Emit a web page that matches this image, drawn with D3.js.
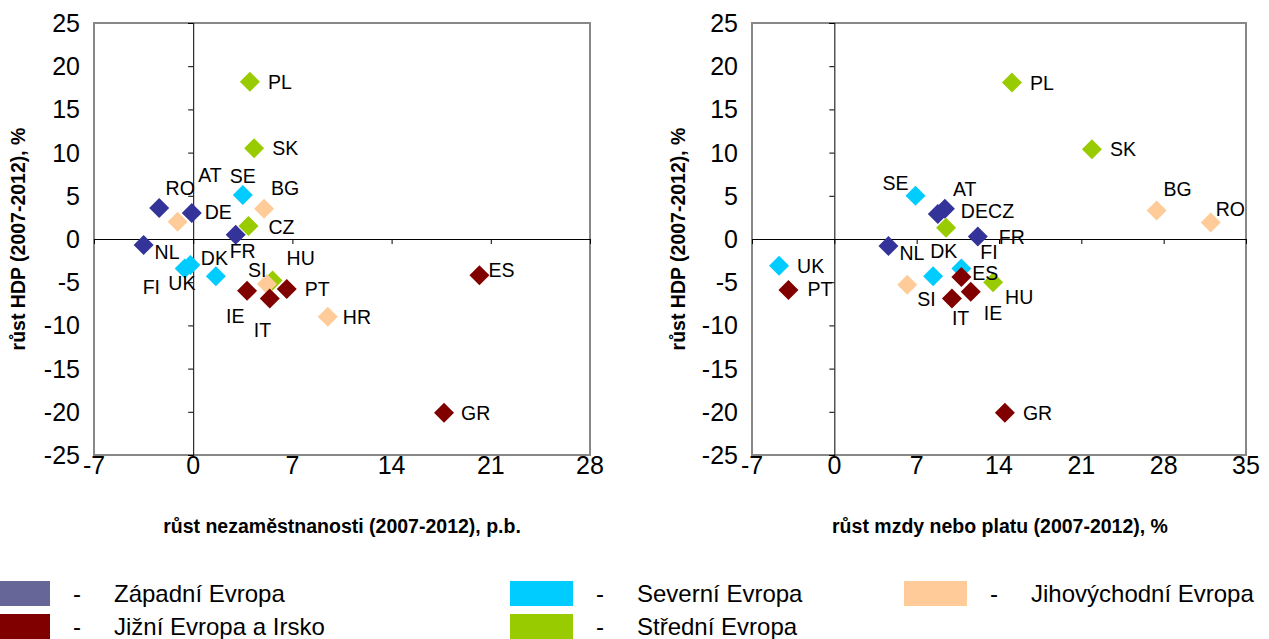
<!DOCTYPE html>
<html><head><meta charset="utf-8">
<script src="https://cdn.jsdelivr.net/npm/d3@7"></script>
<style>body{margin:0;background:#fff}svg{display:block;font-family:Arial,"Liberation Sans",sans-serif}</style>
</head><body>
<svg id="c" width="1269" height="639"></svg>
<script>
// ---- data ----
const groups = ["Západní Evropa","Jižní Evropa a Irsko","Severní Evropa","Střední Evropa","Jihovýchodní Evropa"];
const groupColors = ["#333399","#800000","#00CCFF","#99CC00","#FFCC99"];
const legendColors = ["#666699","#800000","#00CCFF","#99CC00","#FFCC99"];

// left chart: unemployment growth (p.b.) vs GDP growth (%)
const leftCountries = ["PL","SK","AT","RO","SE","BG","DE","CZ","FR","NL","DK","FI","UK","HU","SI","IE","IT","PT","HR","ES","GR"];
const leftGroup     = [3,3,0,4,2,4,0,3,0,0,2,2,2,3,4,1,1,1,4,1,1];
const leftX = [4.0,4.3,-2.4,-1.1,3.5,5.0,-0.1,3.9,3.0,-3.5,1.6,-0.6,-0.2,5.6,5.2,3.8,5.4,6.6,9.5,20.2,17.7];
const leftY = [18.2,10.5,3.6,2.0,5.1,3.5,3.0,1.5,0.5,-0.7,-4.3,-3.4,-3.0,-4.8,-5.2,-6.0,-6.9,-5.8,-9.0,-4.2,-20.1];

// right chart: wage growth (%) vs GDP growth (%)
const rightCountries = ["SE","AT","DE","CZ","FR","NL","DK","FI","ES","UK","PT","SI","IT","IE","HU","PL","SK","BG","RO","GR"];
const rightGroup     = [2,0,0,3,0,0,2,2,1,2,1,4,1,1,3,3,3,4,4,1];
const rightX = [6.9,9.4,8.8,9.5,12.2,4.6,8.4,10.8,10.8,-4.7,-3.9,6.2,10.0,11.6,13.5,15.1,21.9,27.4,32.0,14.5];
const rightY = [5.0,3.5,2.9,1.3,0.3,-0.8,-4.3,-3.4,-4.4,-3.1,-5.9,-5.3,-6.9,-6.1,-5.0,18.1,10.4,3.3,1.9,-20.1];

const leftXTicks = [-7,0,7,14,21,28];
const rightXTicks = [-7,0,7,14,21,28,35];
const yTicks = [-25,-20,-15,-10,-5,0,5,10,15,20,25];

const leftXTitle = "růst nezaměstnanosti (2007-2012), p.b.";
const rightXTitle = "růst mzdy nebo platu (2007-2012), %";
const yTitle = "růst HDP (2007-2012), %";

// label placement (layout only, px offsets from marker)
const leftLabelOffsets = {PL:[18,0],SK:[18,0],AT:[39,-33],RO:[-12,-34],SE:[-13,-19],BG:[7,-21],DE:[13,-1],CZ:[20,1],FR:[-6,16],NL:[11,7],DK:[-15,-18],FI:[-42,19],UK:[-22,18],HU:[14,-22],SI:[-19,-14],IE:[-21,25],IT:[-16,31],PT:[18,0],HR:[15,0],ES:[9,-5],GR:[17,0]};
const rightLabelOffsets = {SE:[-33,-13],AT:[8,-20],DE:[23,-3],CZ:[42,-17],FR:[21,1],NL:[11,7],DK:[-3,-25],FI:[19,-16],ES:[11,-4],UK:[18,0],PT:[19,-1],SI:[10,14],IT:[0,19],IE:[13,21],HU:[12,15],PL:[18,0],SK:[18,0],BG:[7,-21],RO:[5,-14],GR:[18,0]};

const svg = d3.select("#c");

function drawChart(cfg){
  const g = svg.append("g");
  const x = d3.scaleLinear().domain(cfg.xDomain).range([cfg.left, cfg.right]);
  const y = d3.scaleLinear().domain([-25,25]).range([455, 23]);
  g.append("rect").attr("x",cfg.left).attr("y",23).attr("width",cfg.right-cfg.left).attr("height",432)
    .attr("fill","none").attr("stroke","#888").attr("stroke-width",2);
  const xAxis = d3.axisBottom(x).tickValues(cfg.xTicks).tickSize(5).tickFormat("");
  g.append("g").attr("transform",`translate(0,${y(0)})`).call(xAxis)
    .call(s=>{s.select(".domain").attr("stroke","#000");s.selectAll(".tick line").attr("stroke","#000");});
  const yAxis = d3.axisLeft(y).tickValues(yTicks).tickSize(5).tickFormat("");
  g.append("g").attr("transform",`translate(${x(0)},0)`).call(yAxis)
    .call(s=>{s.select(".domain").attr("stroke","#000");s.selectAll(".tick line").attr("stroke","#000");});
  g.selectAll(".xl").data(cfg.xTicks).join("text").attr("x",d=>x(d)).attr("y",474)
    .attr("text-anchor","middle").attr("font-size",25).text(d=>d);
  g.selectAll(".yl").data(yTicks).join("text").attr("x",cfg.left-14).attr("y",d=>y(d)+9)
    .attr("text-anchor","end").attr("font-size",25).text(d=>d);
  g.append("text").attr("x",cfg.titleX).attr("y",533).attr("text-anchor","middle")
    .attr("font-size",19.5).attr("font-weight","bold").text(cfg.xTitle);
  g.append("text").attr("transform",`translate(${cfg.yTitleX},${y(0)}) rotate(-90)`).attr("text-anchor","middle")
    .attr("font-size",19.5).attr("font-weight","bold").text(yTitle);
  const pts = cfg.countries.map((c,i)=>({c, x:cfg.xs[i], y:cfg.ys[i], g:cfg.grp[i]}));
  const sym = d3.symbol(d3.symbolSquare, 200);
  g.selectAll(".pt").data(pts).join("path")
    .attr("d",sym).attr("fill",d=>groupColors[d.g])
    .attr("transform",d=>`translate(${x(d.x)},${y(d.y)}) rotate(45)`);
  g.selectAll(".lb").data(pts).join("text")
    .attr("x",d=>x(d.x)+cfg.off[d.c][0]).attr("y",d=>y(d.y)+cfg.off[d.c][1]+7)
    .attr("font-size",19.5).attr("fill","#000").text(d=>d.c);
}

drawChart({xDomain:[-7,28],left:94,right:590,xTicks:leftXTicks,countries:leftCountries,xs:leftX,ys:leftY,grp:leftGroup,off:leftLabelOffsets,xTitle:leftXTitle,titleX:342,yTitleX:25});
drawChart({xDomain:[-7,35],left:752,right:1246,xTicks:rightXTicks,countries:rightCountries,xs:rightX,ys:rightY,grp:rightGroup,off:rightLabelOffsets,xTitle:rightXTitle,titleX:1000,yTitleX:685});

// legend
const legOrder = [0,2,4,1,3];
const legX = [-13,510,904];
const legY = [581,614];
legOrder.forEach((gi,k)=>{
  const col = k<3 ? k : k-3, row = k<3 ? 0 : 1;
  const lx = legX[col], ly = legY[row];
  svg.append("rect").attr("x",lx).attr("y",ly).attr("width",63).attr("height",25).attr("fill",legendColors[gi]);
  svg.append("text").attr("x",lx+86).attr("y",ly+21).attr("font-size",24).text("-");
  svg.append("text").attr("x",lx+127).attr("y",ly+21).attr("font-size",24).text(groups[gi]);
});
</script>
</body></html>
